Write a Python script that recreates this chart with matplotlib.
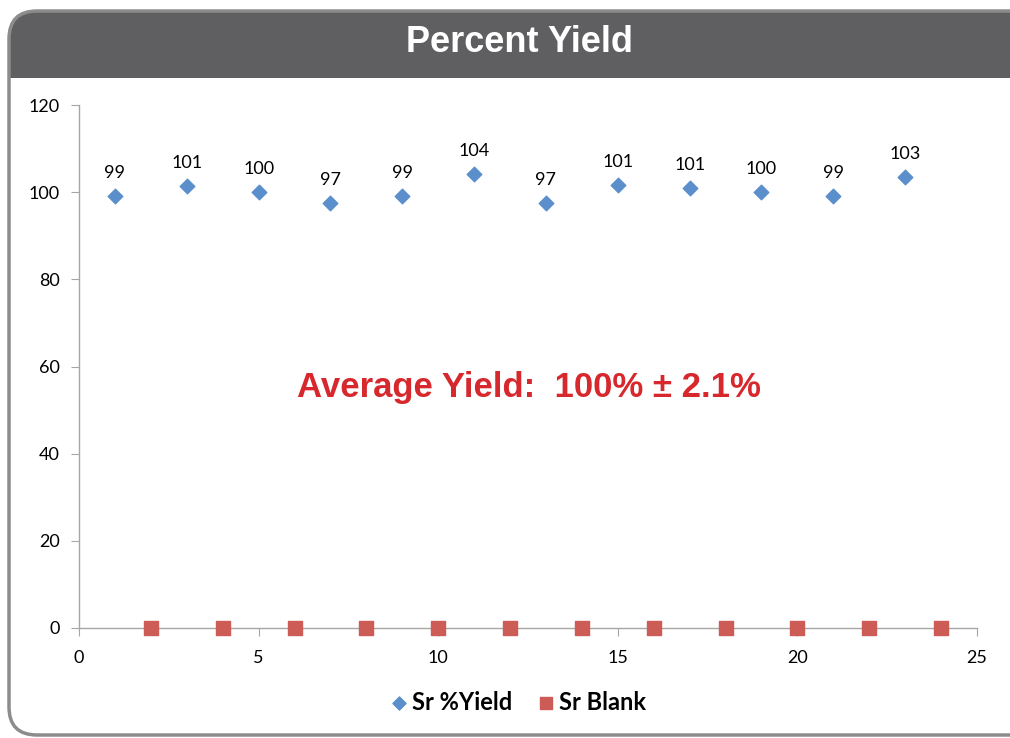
import matplotlib.pyplot as plt
from matplotlib.patches import FancyBboxPatch, Rectangle

# data
yield_x = [1, 3, 5, 7, 9, 11, 13, 15, 17, 19, 21, 23]
yield_y = [99.1, 101.4, 100.0, 97.5, 99.1, 104.2, 97.5, 101.6, 101.0, 100.0, 99.1, 103.5]
yield_labels = ["99", "101", "100", "97", "99", "104", "97", "101", "101", "100", "99", "103"]
blank_x = [2, 4, 6, 8, 10, 12, 14, 16, 18, 20, 22, 24]
blank_y = [0, 0, 0, 0, 0, 0, 0, 0, 0, 0, 0, 0]

W, H = 1010, 738
fig = plt.figure(figsize=(W / 100, H / 100), dpi=100)

# frame with dark header (pixel coordinates)
frame_fill = FancyBboxPatch((9, 3), 1040, 724, boxstyle="round,pad=0,rounding_size=28",
                            transform=None, facecolor="white", edgecolor="none", zorder=-3)
header = FancyBboxPatch((9, 660), 1040, 67, boxstyle="round,pad=0,rounding_size=28",
                        transform=None, facecolor="#5f5f61", edgecolor="none", zorder=-2)
header_low = Rectangle((9, 660), 1040, 30, transform=None,
                       facecolor="#5f5f61", edgecolor="none", zorder=-2)
frame_line = FancyBboxPatch((9, 3), 1040, 724, boxstyle="round,pad=0,rounding_size=28",
                            transform=None, facecolor="none", edgecolor="#8c8c8c",
                            linewidth=2.5, zorder=-1)
for p in (frame_fill, header, header_low, frame_line):
    fig.patches.append(p)

fig.text(519 / W, 1 - 42 / H, "Percent Yield", color="white", fontsize=26,
         fontweight="bold", family="Liberation Sans", ha="center", va="center")

ax = fig.add_axes([79 / W, 1 - 628 / H, (977 - 79) / W, (628 - 105) / H])
ax.set_zorder(2)
ax.set_facecolor("none")

ax.scatter(yield_x, yield_y, marker="D", s=55, color="#5b8fcc", label="Sr %Yield", zorder=3)
ax.scatter(blank_x, blank_y, marker="s", s=100, color="#cd5c57", label="Sr Blank",
           zorder=3, clip_on=False)

for x, y, t in zip(yield_x, yield_y, yield_labels):
    ax.annotate(t, (x, y), xytext=(0, 11), textcoords="offset points", ha="center",
                va="bottom", fontsize=13, family="Lato", color="black")

ax.set_xlim(0, 25)
ax.set_ylim(0, 120)
ax.set_xticks(range(0, 26, 5))
ax.set_yticks(range(0, 121, 20))
for s in ("top", "right"):
    ax.spines[s].set_visible(False)
for s in ("left", "bottom"):
    ax.spines[s].set_color("#a6a6a6")
    ax.spines[s].set_linewidth(1.0)
ax.tick_params(direction="out", length=6, color="#a6a6a6", labelsize=13, pad=8)
ax.tick_params(axis="x", pad=10)
for lbl in ax.get_xticklabels() + ax.get_yticklabels():
    lbl.set_family("Lato")

ax.text(529 / W, 1 - 388 / H, "Average Yield:  100% \u00b1 2.1%", transform=fig.transFigure,
        color="#d6282d", fontsize=25, fontweight="bold", family="Liberation Sans",
        ha="center", va="center")

fig.legend(loc="center", bbox_to_anchor=(517 / W, 1 - 702 / H), ncol=2, frameon=False,
           prop={"family": "Lato", "weight": "bold", "size": 17}, handletextpad=0.1,
           handlelength=0.9, columnspacing=1.0, markerscale=0.9)

fig.savefig("out.png", dpi=100)
